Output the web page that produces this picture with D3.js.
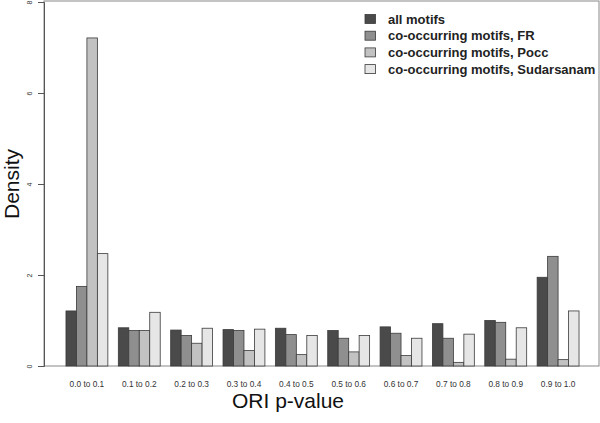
<!DOCTYPE html>
<html><head><meta charset="utf-8">
<script src="https://cdn.jsdelivr.net/npm/d3@7"></script>
<style>body{margin:0;background:#fff}svg{display:block}text{font-family:"Liberation Sans",Arial,sans-serif}</style>
</head><body>
<svg id="c" width="600" height="423"></svg>
<script>
const categories = ["0.0 to 0.1","0.1 to 0.2","0.2 to 0.3","0.3 to 0.4","0.4 to 0.5","0.5 to 0.6","0.6 to 0.7","0.7 to 0.8","0.8 to 0.9","0.9 to 1.0"];
const seriesNames = ["all motifs","co-occurring motifs, FR","co-occurring motifs, Pocc","co-occurring motifs, Sudarsanam"];
const allMotifs = [1.21,0.84,0.79,0.80,0.83,0.78,0.86,0.93,1.00,1.95];
const coFR      = [1.75,0.78,0.67,0.78,0.69,0.61,0.72,0.61,0.96,2.41];
const coPocc    = [7.21,0.78,0.50,0.34,0.25,0.31,0.23,0.08,0.15,0.14];
const coSud     = [2.47,1.18,0.83,0.81,0.67,0.67,0.61,0.70,0.84,1.21];
const yTicks = [0,2,4,6,8];
const colors = ["#4a4a4a","#8f8f8f","#c2c2c2","#e6e6e6"];

const series = [allMotifs, coFR, coPocc, coSud];
const svg = d3.select("#c");
const L = 44, R = 599, T = 2, B = 366;

const x0 = d3.scaleBand().domain(categories).range([55.5, 589.5]).paddingInner(0.2).paddingOuter(0.2);
const x1 = d3.scaleBand().domain(seriesNames).range([0, x0.bandwidth()]).padding(0);
const y = d3.scaleLinear().domain([0, 8]).range([B, T]);

// frame
svg.append("rect").attr("x", L).attr("y", 1).attr("width", R - L).attr("height", B - 1)
  .attr("fill", "none").attr("stroke", "#888").attr("stroke-width", 1);

// bars
categories.forEach((c, i) => {
  seriesNames.forEach((s, k) => {
    const v = series[k][i];
    svg.append("rect")
      .attr("x", x0(c) + x1(s))
      .attr("y", y(v))
      .attr("width", x1.bandwidth())
      .attr("height", y(0) - y(v))
      .attr("fill", colors[k])
      .attr("stroke", "#3a3a3a")
      .attr("stroke-width", 0.8);
  });
});

// y axis
const yAxis = d3.axisLeft(y).tickValues(yTicks).tickSize(6).tickFormat(d3.format("d"));
const ga = svg.append("g").attr("transform", `translate(${L},0)`).call(yAxis);
ga.select(".domain").attr("stroke", "#555");
ga.selectAll(".tick line").attr("stroke", "#555");
ga.selectAll(".tick text").attr("font-size", 7).attr("fill", "#333")
  .attr("text-anchor", "middle")
  .attr("transform", "rotate(-90)").attr("x", 0).attr("y", -14).attr("dy", "0.35em");

// x category labels
const xAxis = d3.axisBottom(x0).tickSize(0);
const gx = svg.append("g").attr("transform", `translate(0,${B})`).call(xAxis);
gx.select(".domain").remove();
gx.selectAll(".tick text").attr("font-size", 8.3).attr("fill", "#333").attr("dy", 0).attr("y", 21);

// axis titles
svg.append("text").attr("x", 288).attr("y", 408).attr("text-anchor", "middle")
  .attr("font-size", 21).attr("fill", "#111").text("ORI p-value");
svg.append("text").attr("transform", `translate(19,${(T + B) / 2}) rotate(-90)`)
  .attr("text-anchor", "middle").attr("font-size", 21).attr("fill", "#111").text("Density");

// legend
const lg = svg.append("g");
seriesNames.forEach((s, k) => {
  const yy = 19 + k * 16.7;
  lg.append("rect").attr("x", 365).attr("y", yy - 4.5).attr("width", 10.5).attr("height", 9)
    .attr("fill", colors[k]).attr("stroke", "#3a3a3a").attr("stroke-width", 0.8);
  lg.append("text").attr("x", 388).attr("y", yy).attr("dy", "0.35em")
    .attr("font-size", 13).attr("font-weight", "bold").attr("fill", "#222").text(s);
});
</script>
</body></html>
